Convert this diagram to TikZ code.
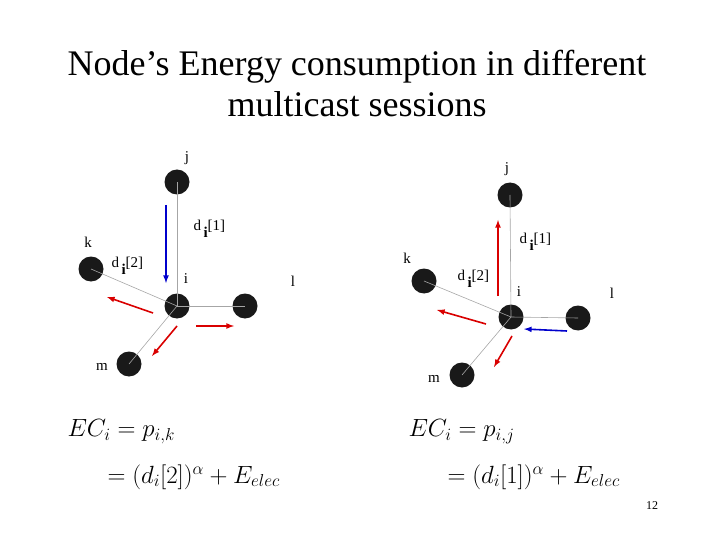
\documentclass[tikz,border=0pt]{standalone}
\usepackage{fontspec}
\setmainfont{Liberation Serif}
\begin{document}
\begin{tikzpicture}[x=1pt,y=-1pt,
  dot/.style={circle,fill=black!90,minimum size=25pt,inner sep=0},
  edge/.style={draw=gray!70,line width=0.6pt},
  lab/.style={font=\fontsize{15}{17}\selectfont},
  red arr/.style={draw=red!85!black,line width=1.6pt,-latex},
  blue arr/.style={draw=blue!80!black,line width=1.6pt,-latex},
  eq/.style={anchor=west,font=\fontsize{23}{26}\selectfont}]
\useasboundingbox (0,0) rectangle (720,540);
\node[font=\fontsize{36}{41}\selectfont,align=center] (title) at (357,84) {Node’s Energy consumption in different\\multicast sessions};
% left diagram
\node[dot] (j1) at (177,182) {};
\node[dot] (k1) at (91,269) {};
\node[dot] (i1) at (177,306) {};
\node[dot] (l1) at (245,306) {};
\node[dot] (m1) at (129,364) {};
\draw[edge] (i1.center) -- (j1.center);
\draw[edge] (i1.center) -- (k1.center);
\draw[edge] (i1.center) -- (l1.center);
\draw[edge] (i1.center) -- (m1.center);
\coordinate (b1s) at (166,205); \coordinate (b1e) at (166,283);
\draw[blue arr] (b1s) -- (b1e);
\coordinate (r1a) at (153,313); \coordinate (r1b) at (107,297);
\draw[red arr] (r1a) -- (r1b);
\coordinate (r1c) at (196,326); \coordinate (r1d) at (234,326);
\draw[red arr] (r1c) -- (r1d);
\coordinate (r1e) at (177,326); \coordinate (r1f) at (152,356);
\draw[red arr] (r1e) -- (r1f);
\node[lab] (lj1) at (187,158) {j};
\node[lab] (lk1) at (88,242) {k};
\node[lab] (li1) at (186,279) {i};
\node[lab] (ll1) at (293,281) {l};
\node[lab] (lm1) at (102,367) {m};
\node[lab,anchor=west] (d11) at (190,229) {d\,\raisebox{-1.1ex}{\textbf{i}}[1]};
\node[lab,anchor=west] (d21) at (108,266) {d\,\raisebox{-1.1ex}{\textbf{i}}[2]};
% right diagram
\node[dot] (j2) at (510,195) {};
\node[dot] (k2) at (424,281) {};
\node[dot] (i2) at (511,317) {};
\node[dot] (l2) at (578,318) {};
\node[dot] (m2) at (462,375) {};
\draw[edge] (i2.center) -- (j2.center);
\draw[edge] (i2.center) -- (k2.center);
\draw[edge] (i2.center) -- (l2.center);
\draw[edge] (i2.center) -- (m2.center);
\coordinate (r2a) at (498,296); \coordinate (r2b) at (498,220);
\draw[red arr] (r2a) -- (r2b);
\coordinate (b2s) at (567,331); \coordinate (b2e) at (524,329);
\draw[blue arr] (b2s) -- (b2e);
\coordinate (r2c) at (486,324); \coordinate (r2d) at (437,310);
\draw[red arr] (r2c) -- (r2d);
\coordinate (r2e) at (512,336); \coordinate (r2f) at (494,367);
\draw[red arr] (r2e) -- (r2f);
\node[lab] (lj2) at (507,169) {j};
\node[lab] (lk2) at (407,258) {k};
\node[lab] (li2) at (519,292) {i};
\node[lab] (ll2) at (612,293) {l};
\node[lab] (lm2) at (434,379) {m};
\node[lab,anchor=west] (d12) at (516,242) {d\,\raisebox{-1.1ex}{\textbf{i}}[1]};
\node[lab,anchor=west] (d22) at (454,279) {d\,\raisebox{-1.1ex}{\textbf{i}}[2]};
% equations
\node[eq] (e1a) at (64,432) {$EC_i = p_{i,k}$};
\node[eq] (e1b) at (104,477) {$= (d_i[2])^{\alpha} + E_{elec}$};
\node[eq] (e2a) at (405,432) {$EC_i = p_{i,j}$};
\node[eq] (e2b) at (444,477) {$= (d_i[1])^{\alpha} + E_{elec}$};
\node[font=\fontsize{12}{13}\selectfont] (pg) at (652,506) {12};
\end{tikzpicture}
\end{document}
